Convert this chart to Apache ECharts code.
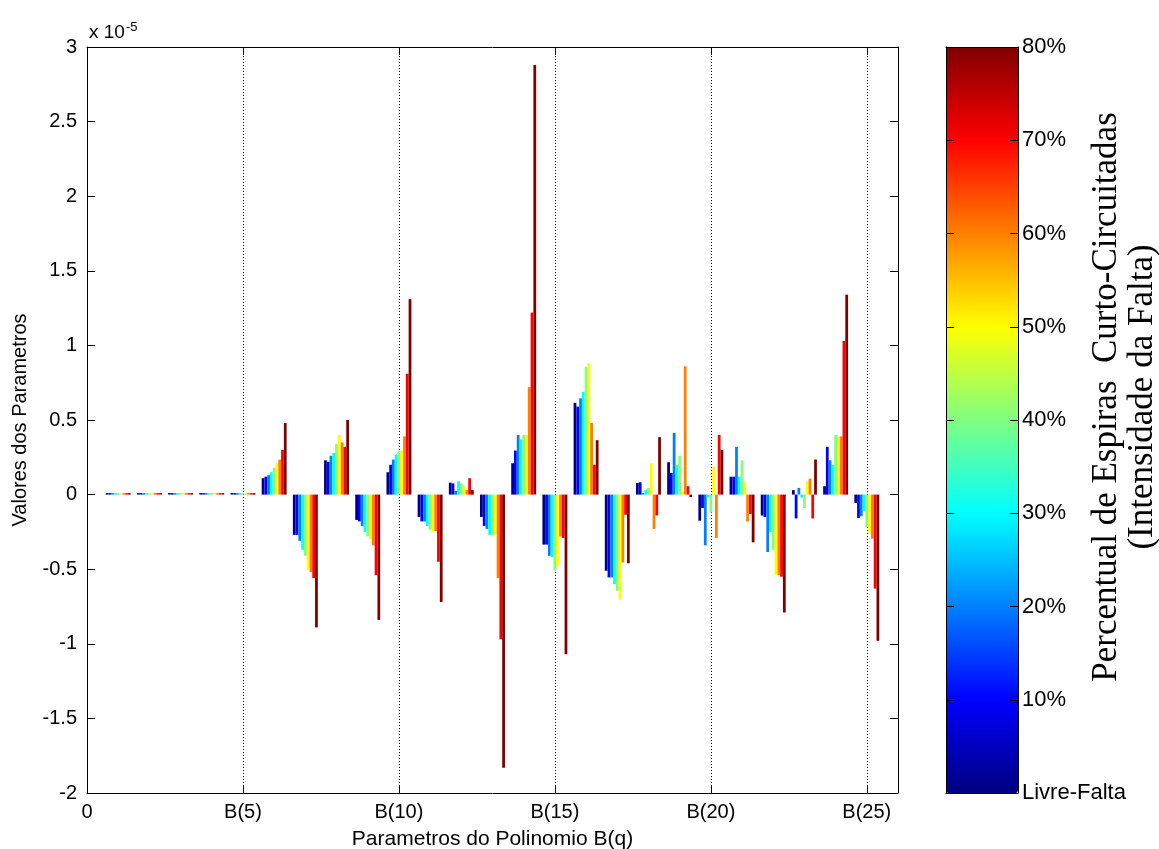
<!DOCTYPE html>
<html><head><meta charset="utf-8">
<script src="https://cdn.jsdelivr.net/npm/echarts@6/dist/echarts.min.js"></script>
<style>html,body{margin:0;padding:0;background:#fff}#chart{width:1159px;height:849px}</style>
</head><body><div id="chart"></div>
<script>
// Parameter index q of B(q)
const paramIndex = [1,2,3,4,5,6,7,8,9,10,11,12,13,14,15,16,17,18,19,20,21,22,23,24,25];
// Parameter values (x 1e-5) for each fault intensity
const livreFalta = [0.01,0.01,0.01,0.01,0.01, 0.11,-0.27,0.23,-0.17,0.15,-0.15,0.08,-0.15,0.21,-0.335,0.615,-0.51,0.078,0.217,-0.175,0.12,-0.14,0.03,0.056,-0.056];
const falta10 = [0.01,0.01,0.01,0.01,0.01, 0.12,-0.27,0.22,-0.18,0.20,-0.18,0.075,-0.21,0.295,-0.335,0.59,-0.555,0.083,0.145,-0.09,0.12,-0.15,-0.16,0.32,-0.157];
const falta20 = [0.01,0.01,0.01,0.01,0.01, 0.13,-0.31,0.26,-0.21,0.235,-0.18,0.025,-0.23,0.40,-0.41,0.645,-0.555,0.01,0.414,-0.34,0.32,-0.385,0.045,0.23,-0.145];
const falta30 = [0.01,0.01,0.01,0.01,0.01, 0.15,-0.37,0.28,-0.25,0.27,-0.21,0.09,-0.27,0.37,-0.42,0.69,-0.60,0.03,0.197,-0.02,0.12,-0.25,-0.02,0.20,-0.11];
const falta40 = [0.01,0.01,0.01,0.01,0.01, 0.18,-0.41,0.34,-0.28,0.29,-0.235,0.075,-0.27,0.40,-0.51,0.855,-0.645,0.045,0.26,-0.12,0.23,-0.37,-0.09,0.40,-0.22];
const falta50 = [0.01,0.01,0.01,0.01,0.01, 0.21,-0.50,0.40,-0.30,0.295,-0.245,0.06,-0.27,0.40,-0.48,0.88,-0.705,0.21,0.02,0.186,0.083,-0.54,0.09,0.385,-0.26];
const falta60 = [0.01,0.01,0.01,0.01,0.01, 0.235,-0.52,0.35,-0.34,0.39,-0.245,0.03,-0.56,0.72,-0.28,0.48,-0.455,-0.23,0.86,-0.29,-0.18,-0.54,0.107,0.39,-0.295];
const falta70 = [0.01,0.01,0.01,0.01,0.01, 0.30,-0.56,0.32,-0.54,0.81,-0.45,0.11,-0.97,1.22,-0.29,0.20,-0.135,-0.14,0.056,0.40,-0.13,-0.55,-0.16,1.03,-0.63];
const falta80 = [0.01,0.01,0.01,0.01,0.01, 0.48,-0.89,0.50,-0.84,1.31,-0.72,0.03,-1.83,2.88,-1.07,0.365,-0.46,0.385,-0.016,0.30,-0.32,-0.79,0.235,1.34,-0.98];

const faultSeries = [livreFalta, falta10, falta20, falta30, falta40, falta50, falta60, falta70, falta80];
const faultNames = ['Livre-Falta','10%','20%','30%','40%','50%','60%','70%','80%'];
const colorbarTicks = [0,10,20,30,40,50,60,70,80];
const jetColors = ['#000080','#0000ff','#0080ff','#00ffff','#80ff80','#ffff00','#ff8000','#ff0000','#800000'];

const FONT = 'Liberation Sans';
const FS = 20;
const nBars = faultSeries.length;

function makeRender(s){
  return function(params, api){
    const x = api.value(0), v = api.value(1);
    const gw = 0.8, bw = gw / nBars;
    const x0 = x - gw/2 + s*bw;
    const a = api.coord([x0, v]);
    const b = api.coord([x0 + bw, 0]);
    return {
      type: 'rect',
      shape: { x: a[0], y: Math.min(a[1], b[1]), width: b[0] - a[0], height: Math.abs(a[1] - b[1]) },
      style: { fill: jetColors[s] }
    };
  };
}

const series = faultSeries.map((arr, s) => ({
  name: faultNames[s],
  type: 'custom',
  xAxisIndex: 0, yAxisIndex: 0,
  clip: true,
  renderItem: makeRender(s),
  encode: { x: 0, y: 1 },
  data: paramIndex.map((q, i) => [q, arr[i]]),
  z: 2
}));
series.push({ type: 'custom', xAxisIndex: 2, yAxisIndex: 2, data: [], renderItem: () => null });

const axisLineStyle = { color: '#000', width: 1 };
const labelStyle = { color: '#000', fontFamily: FONT, fontSize: FS };

const option = {
  backgroundColor: '#fff',
  animation: false,
  title: {
    left: 84, top: 16,
    text: 'x 10{sup|-5}',
    textStyle: {
      color: '#000', fontFamily: FONT, fontSize: 19, fontWeight: 'normal',
      rich: { sup: { fontSize: 13, color: '#000', fontFamily: FONT, verticalAlign: 'top', padding: [0,0,10,1] } }
    }
  },
  grid: [
    { left: 87, top: 47, width: 811, height: 746, outerBoundsMode: 'none', containLabel: false },
    { left: 946, top: 47, width: 72, height: 746, outerBoundsMode: 'none', containLabel: false }
  ],
  xAxis: [
    { gridIndex: 0, type: 'value', min: 0, max: 26, interval: 5, position: 'bottom',
      axisLine: { show: true, onZero: false, lineStyle: axisLineStyle },
      axisTick: { show: true, inside: true, length: 8, lineStyle: axisLineStyle },
      axisLabel: { ...labelStyle, margin: 9, showMaxLabel: false,
        formatter: v => v === 0 ? '0' : (v % 5 === 0 ? 'B(' + v + ')' : '') },
      splitLine: { show: true, lineStyle: { color: '#000', width: 1, type: [1, 2] } },
      name: 'Parametros do Polinomio B(q)', nameLocation: 'middle', nameGap: 36, nameMoveOverlap: false,
      nameTextStyle: { ...labelStyle, fontSize: 21 } },
    { gridIndex: 0, type: 'value', min: 0, max: 26, interval: 5, position: 'top',
      axisLine: { show: true, onZero: false, lineStyle: axisLineStyle },
      axisTick: { show: true, inside: true, length: 8, lineStyle: axisLineStyle },
      axisLabel: { show: false }, splitLine: { show: false } },
    { gridIndex: 1, type: 'value', min: 0, max: 1, position: 'bottom', z: 10,
      axisLine: { show: true, onZero: false, lineStyle: axisLineStyle },
      axisTick: { show: false }, axisLabel: { show: false }, splitLine: { show: false } },
    { gridIndex: 1, type: 'value', min: 0, max: 1, position: 'top', z: 10,
      axisLine: { show: true, onZero: false, lineStyle: axisLineStyle },
      axisTick: { show: false }, axisLabel: { show: false }, splitLine: { show: false } }
  ],
  yAxis: [
    { gridIndex: 0, type: 'value', min: -2, max: 3, interval: 0.5, position: 'left',
      axisLine: { show: true, onZero: false, lineStyle: axisLineStyle },
      axisTick: { show: true, inside: true, length: 8, lineStyle: axisLineStyle },
      axisLabel: { ...labelStyle, margin: 10 },
      splitLine: { show: false },
      name: 'Valores dos Parametros', nameLocation: 'middle', nameRotate: 90, nameGap: 57, nameMoveOverlap: false,
      nameTextStyle: labelStyle },
    { gridIndex: 0, type: 'value', min: -2, max: 3, interval: 0.5, position: 'right',
      axisLine: { show: true, onZero: false, lineStyle: axisLineStyle },
      axisTick: { show: true, inside: true, length: 8, lineStyle: axisLineStyle },
      axisLabel: { show: false }, splitLine: { show: false } },
    { gridIndex: 1, type: 'value', min: 0, max: 80, interval: 10, position: 'left', z: 10,
      axisLine: { show: true, onZero: false, lineStyle: axisLineStyle },
      axisTick: { show: true, inside: true, length: 8, lineStyle: axisLineStyle },
      axisLabel: { show: false }, splitLine: { show: false } },
    { gridIndex: 1, type: 'value', min: 0, max: 80, interval: 10, position: 'right', z: 10,
      axisLine: { show: true, onZero: false, lineStyle: axisLineStyle },
      axisTick: { show: true, inside: true, length: 8, lineStyle: axisLineStyle },
      axisLabel: { ...labelStyle, fontSize: 22, margin: 4,
        formatter: v => { const k = colorbarTicks.indexOf(v); return k >= 0 ? faultNames[k] : ''; } },
      splitLine: { show: false },
      name: 'Percentual de Espiras  Curto-Circuitadas\n(Intensidade da Falta)',
      nameLocation: 'middle', nameRotate: 90, nameGap: 71, nameMoveOverlap: false,
      nameTextStyle: { color: '#000', fontFamily: 'Liberation Serif', fontSize: 35, lineHeight: 36,
        padding: [0, 0, 0, 46] } }
  ],
  visualMap: {
    type: 'continuous', min: 0, max: 80, seriesIndex: 9,
    left: 946, top: 47, itemWidth: 72, itemHeight: 746, padding: 0,
    calculable: false, hoverLink: false, text: null, showLabel: false,
    inRange: { color: jetColors }, z: 1
  },
  series: series
};

const chart = echarts.init(document.getElementById('chart'), null, { renderer: 'canvas' });
chart.setOption(option);
</script>
</body></html>
